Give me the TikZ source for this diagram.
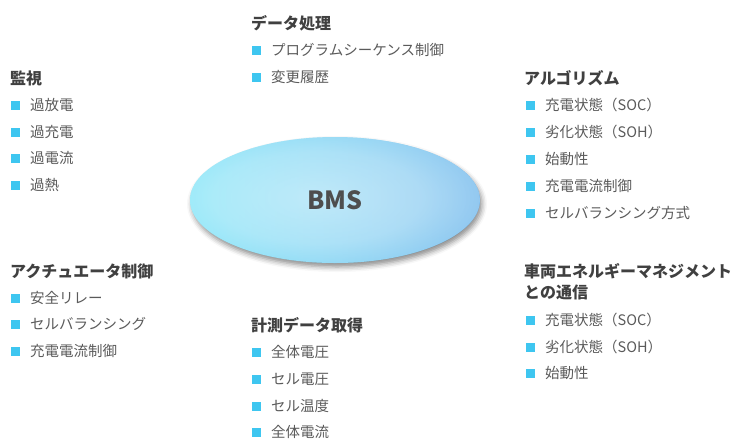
\documentclass[tikz,border=0pt]{standalone}
\usepackage{fontspec}
\setmainfont{Noto Sans CJK JP}
\usetikzlibrary{shapes.geometric,fadings,shadows.blur}
\definecolor{headc}{HTML}{404040}
\definecolor{itemc}{HTML}{5A5A5A}
\definecolor{bulc}{HTML}{3EC6F0}
\definecolor{ellL}{HTML}{5EDDF6}
\definecolor{ellR}{HTML}{62B0EA}
\definecolor{bmsc}{HTML}{4E4E4E}
\pgfdeclareradialshading{bmsfadesh}{\pgfpoint{0bp}{0bp}}{color(0bp)=(white); color(18bp)=(white!80!black); color(46bp)=(black); color(50bp)=(black)}
\pgfdeclarefading{bmsfade}{\pgfuseshading{bmsfadesh}}
\newcommand{\bmsitem}[4]{%
  \node[bul] (#1b) at (#2,#3) {};
  \node[itemtext] (#1) at (#2+19,#3) {#4};}
\begin{document}
\begin{tikzpicture}[x=1pt,y=-1pt,
  headtext/.style={anchor=west, inner sep=0pt, text=headc, font=\fontsize{16}{21}\selectfont\bfseries, align=left},
  itemtext/.style={anchor=west, inner sep=0pt, text=itemc, font=\fontsize{14.5}{17}\selectfont},
  bul/.style={fill=bulc, minimum size=9pt, inner sep=0pt, anchor=west},
  ellbox/.style={ellipse, minimum width=290pt, minimum height=126pt, inner sep=0pt,
     left color=ellL, right color=ellR,
     blur shadow={shadow xshift=2pt, shadow yshift=-4pt, shadow blur radius=5pt, shadow opacity=45}}]
\useasboundingbox (0,0) rectangle (738,440);

% central ellipse
\node[ellbox] (bms) at (335,200) {};
\fill[white, opacity=0.6, path fading=bmsfade, fading transform={xshift=-3pt, yshift=1pt}]
  (bms.center) ellipse [x radius=145pt, y radius=63pt];
\node[text=bmsc, font=\fontsize{25}{28}\selectfont\bfseries] (bmst) at (bms.center) {BMS};

% 監視
\node[headtext] (h1) at (10,78) {監視};
\bmsitem{a1}{11}{105}{過放電}
\bmsitem{a2}{11}{132}{過充電}
\bmsitem{a3}{11}{158}{過電流}
\bmsitem{a4}{11}{185}{過熱}

% データ処理
\node[headtext] (h2) at (251,23) {データ処理};
\bmsitem{b1}{252}{50}{プログラムシーケンス制御}
\bmsitem{b2}{252}{77}{変更履歴}

% アルゴリズム
\node[headtext] (h3) at (524,78) {アルゴリズム};
\bmsitem{c1}{526}{105}{充電状態（SOC）}
\bmsitem{c2}{526}{132}{劣化状態（SOH）}
\bmsitem{c3}{526}{159}{始動性}
\bmsitem{c4}{526}{186}{充電電流制御}
\bmsitem{c5}{526}{213}{セルバランシング方式}

% 車両エネルギーマネジメントとの通信
\node[headtext] (h4) at (524,282) {車両エネルギーマネジメント\\との通信};
\bmsitem{d1}{526}{320}{充電状態（SOC）}
\bmsitem{d2}{526}{347}{劣化状態（SOH）}
\bmsitem{d3}{526}{373}{始動性}

% アクチュエータ制御
\node[headtext] (h5) at (10,271) {アクチュエータ制御};
\bmsitem{e1}{11}{298}{安全リレー}
\bmsitem{e2}{11}{324}{セルバランシング}
\bmsitem{e3}{11}{351}{充電電流制御}

% 計測データ取得
\node[headtext] (h6) at (251,325) {計測データ取得};
\bmsitem{f1}{252}{352}{全体電圧}
\bmsitem{f2}{252}{379}{セル電圧}
\bmsitem{f3}{252}{406}{セル温度}
\bmsitem{f4}{252}{432}{全体電流}
\end{tikzpicture}
\end{document}
